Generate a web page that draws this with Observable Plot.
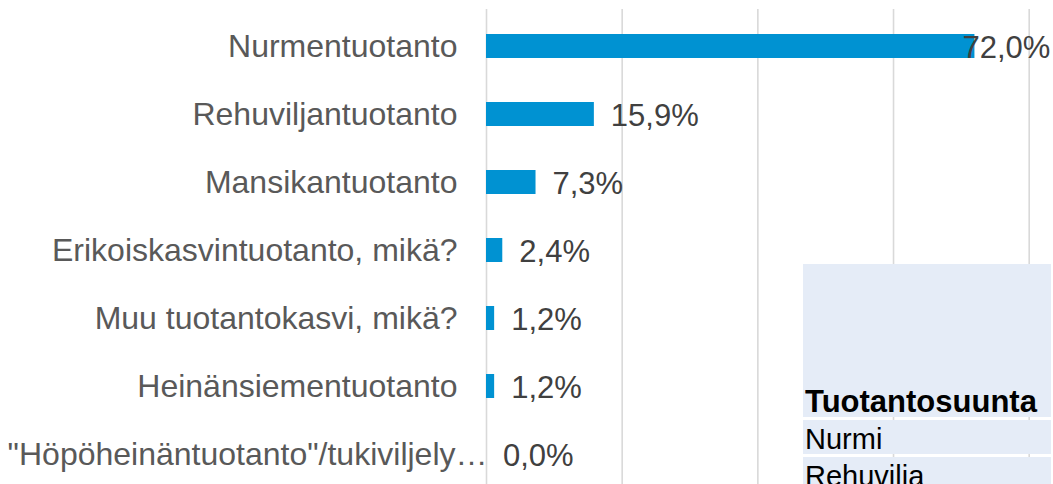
<!DOCTYPE html>
<html>
<head>
<meta charset="utf-8">
<script src="https://cdn.jsdelivr.net/npm/d3@7"></script>
<script src="https://cdn.jsdelivr.net/npm/@observablehq/plot@0.6"></script>
<style>
  html, body { margin: 0; padding: 0; background: #fff; overflow: hidden; }
  #wrap { position: relative; width: 1053px; height: 484px; overflow: hidden; }
  .cell { position: absolute; left: 803px; width: 248px; background: #E5ECF7; font-family: "Liberation Sans", Arial, sans-serif; color: #000; box-sizing: border-box; }
</style>
</head>
<body>
<div id="wrap">
  <div id="chart"></div>
  <div class="cell" style="top:264px;height:153px;">
    <div style="position:absolute;left:2px;bottom:0px;font-size:31px;font-weight:bold;line-height:1;">Tuotantosuunta</div>
  </div>
  <div class="cell" style="top:420px;height:34px;">
    <div style="position:absolute;left:2px;top:5px;font-size:29px;line-height:1;">Nurmi</div>
  </div>
  <div class="cell" style="top:457px;height:34px;">
    <div style="position:absolute;left:2px;top:5px;font-size:29px;line-height:1;">Rehuvilja</div>
  </div>
</div>
<script>
const categories = [
  "Nurmentuotanto",
  "Rehuviljantuotanto",
  "Mansikantuotanto",
  "Erikoiskasvintuotanto, mikä?",
  "Muu tuotantokasvi, mikä?",
  "Heinänsiementuotanto",
  "\"Höpöheinäntuotanto\"/tukiviljely…"
];
const values = [72.0, 15.9, 7.3, 2.4, 1.2, 1.2, 0.0];
const xTicks = [0, 20, 40, 60, 80];

const fmt = v => d3.format(".1f")(v).replace(".", ",") + "%";
const data = categories.map((c, i) => ({cat: c, value: values[i], idx: i, label: fmt(values[i])}));
const font = "Liberation Sans, Arial, sans-serif";

const chart = Plot.plot({
  width: 1053,
  height: 490,
  marginLeft: 486,
  marginRight: 24.3,
  marginTop: 9,
  marginBottom: 0,
  style: {fontFamily: font, background: "transparent"},
  x: {domain: [0, 80], axis: null},
  y: {domain: categories, axis: null, paddingInner: 0.65, paddingOuter: 0.325},
  marks: [
    Plot.ruleX(xTicks, {stroke: "#d9d9d9", strokeWidth: 1.6}),
    Plot.barX(data, {x: "value", y: "cat", fill: "#0092D2"}),
    // category labels
    Plot.text(data, {filter: d => d.idx < 6, x: 0, y: "cat", text: "cat", textAnchor: "end", dx: -29, fontSize: 32, fill: "#595959", fontFamily: font}),
    Plot.text(data, {filter: d => d.idx === 6, x: 0, y: "cat", text: "cat", textAnchor: "end", dx: 1, fontSize: 32, fill: "#595959", fontFamily: font}),
    // value labels
    Plot.text(data, {filter: d => d.value < 60, x: "value", y: "cat", text: "label", textAnchor: "start", dx: 16.5, dy: 2, fontSize: 31, fill: "#404040", fontFamily: font}),
    Plot.text(data, {filter: d => d.value >= 60, x: "value", y: "cat", text: "label", textAnchor: "start", dx: -12.5, dy: 2, fontSize: 31, fill: "#404040", fontFamily: font})
  ]
});
document.getElementById("chart").appendChild(chart);
</script>
</body>
</html>
